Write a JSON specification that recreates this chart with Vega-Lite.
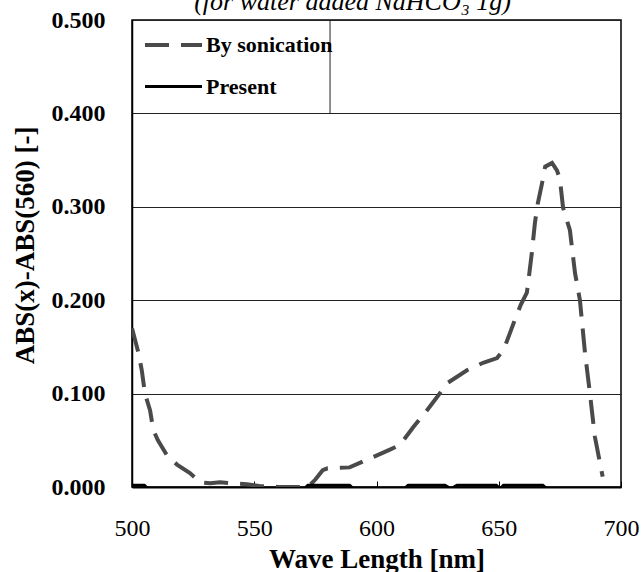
{
  "$schema": "https://vega.github.io/schema/vega-lite/v6.json",
  "width": 489,
  "height": 467,
  "autosize": {"type": "none"},
  "padding": {"left": 132, "top": 20, "right": 20, "bottom": 85},
  "background": "white",
  "title": {
    "text": "(for water added NaHCO₃ 1g)",
    "font": "Liberation Serif",
    "fontSize": 26,
    "fontStyle": "italic",
    "fontWeight": "normal",
    "color": "#000000",
    "anchor": "middle",
    "frame": "group",
    "baseline": "alphabetic",
    "offset": -28,
    "dx": -24
  },
  "config": {
    "view": {"stroke": "#000000", "strokeWidth": 1.5},
    "axis": {"domainColor": "#000000", "tickColor": "#000000", "labelColor": "#000000", "titleColor": "#000000"}
  },
  "layer": [
    {
      "data": {"values": [
        {"wl": 500, "abs": 0.170, "series": "By sonication"},
        {"wl": 502.5, "abs": 0.145, "series": "By sonication"},
        {"wl": 504, "abs": 0.125, "series": "By sonication"},
        {"wl": 505.3, "abs": 0.100, "series": "By sonication"},
        {"wl": 507.4, "abs": 0.082, "series": "By sonication"},
        {"wl": 508.7, "abs": 0.061, "series": "By sonication"},
        {"wl": 510.6, "abs": 0.050, "series": "By sonication"},
        {"wl": 514.3, "abs": 0.034, "series": "By sonication"},
        {"wl": 518.4, "abs": 0.024, "series": "By sonication"},
        {"wl": 523.7, "abs": 0.015, "series": "By sonication"},
        {"wl": 527.8, "abs": 0.005, "series": "By sonication"},
        {"wl": 532, "abs": 0.004, "series": "By sonication"},
        {"wl": 536, "abs": 0.005, "series": "By sonication"},
        {"wl": 541, "abs": 0.004, "series": "By sonication"},
        {"wl": 547, "abs": 0.003, "series": "By sonication"},
        {"wl": 552, "abs": 0.001, "series": "By sonication"},
        {"wl": 560, "abs": 0.000, "series": "By sonication"},
        {"wl": 572, "abs": 0.000, "series": "By sonication"},
        {"wl": 575, "abs": 0.008, "series": "By sonication"},
        {"wl": 578, "abs": 0.018, "series": "By sonication"},
        {"wl": 580, "abs": 0.020, "series": "By sonication"},
        {"wl": 589, "abs": 0.021, "series": "By sonication"},
        {"wl": 596, "abs": 0.029, "series": "By sonication"},
        {"wl": 605.5, "abs": 0.040, "series": "By sonication"},
        {"wl": 609.6, "abs": 0.045, "series": "By sonication"},
        {"wl": 615, "abs": 0.064, "series": "By sonication"},
        {"wl": 620.6, "abs": 0.082, "series": "By sonication"},
        {"wl": 624.7, "abs": 0.096, "series": "By sonication"},
        {"wl": 628.8, "abs": 0.111, "series": "By sonication"},
        {"wl": 637, "abs": 0.125, "series": "By sonication"},
        {"wl": 643.6, "abs": 0.133, "series": "By sonication"},
        {"wl": 649.3, "abs": 0.138, "series": "By sonication"},
        {"wl": 652, "abs": 0.147, "series": "By sonication"},
        {"wl": 654.6, "abs": 0.165, "series": "By sonication"},
        {"wl": 656.6, "abs": 0.179, "series": "By sonication"},
        {"wl": 659, "abs": 0.195, "series": "By sonication"},
        {"wl": 661.5, "abs": 0.208, "series": "By sonication"},
        {"wl": 662, "abs": 0.218, "series": "By sonication"},
        {"wl": 663.5, "abs": 0.250, "series": "By sonication"},
        {"wl": 664.8, "abs": 0.283, "series": "By sonication"},
        {"wl": 666, "abs": 0.304, "series": "By sonication"},
        {"wl": 667.7, "abs": 0.325, "series": "By sonication"},
        {"wl": 669, "abs": 0.343, "series": "By sonication"},
        {"wl": 671.8, "abs": 0.347, "series": "By sonication"},
        {"wl": 673.8, "abs": 0.339, "series": "By sonication"},
        {"wl": 675, "abs": 0.330, "series": "By sonication"},
        {"wl": 676.3, "abs": 0.299, "series": "By sonication"},
        {"wl": 679.1, "abs": 0.275, "series": "By sonication"},
        {"wl": 681.2, "abs": 0.229, "series": "By sonication"},
        {"wl": 683.2, "abs": 0.200, "series": "By sonication"},
        {"wl": 685.3, "abs": 0.143, "series": "By sonication"},
        {"wl": 687.3, "abs": 0.100, "series": "By sonication"},
        {"wl": 689.3, "abs": 0.054, "series": "By sonication"},
        {"wl": 692.5, "abs": 0.011, "series": "By sonication"},
        {"wl": 500, "abs": 0.002, "series": "Present"},
        {"wl": 505, "abs": 0.002, "series": "Present"},
        {"wl": 507, "abs": -0.003, "series": "Present"},
        {"wl": 570, "abs": -0.003, "series": "Present"},
        {"wl": 572, "abs": 0.002, "series": "Present"},
        {"wl": 589, "abs": 0.002, "series": "Present"},
        {"wl": 591, "abs": -0.003, "series": "Present"},
        {"wl": 611, "abs": -0.003, "series": "Present"},
        {"wl": 613, "abs": 0.002, "series": "Present"},
        {"wl": 628, "abs": 0.002, "series": "Present"},
        {"wl": 630.5, "abs": -0.002, "series": "Present"},
        {"wl": 633, "abs": 0.002, "series": "Present"},
        {"wl": 649, "abs": 0.002, "series": "Present"},
        {"wl": 650.5, "abs": -0.002, "series": "Present"},
        {"wl": 652, "abs": 0.002, "series": "Present"},
        {"wl": 668, "abs": 0.002, "series": "Present"},
        {"wl": 670, "abs": -0.003, "series": "Present"},
        {"wl": 700, "abs": -0.003, "series": "Present"}
      ]},
      "mark": {"type": "line", "clip": true, "strokeCap": "butt"},
      "encoding": {
        "x": {
          "field": "wl", "type": "quantitative",
          "scale": {"domain": [500, 700], "nice": false, "zero": false},
          "axis": {
            "values": [500, 550, 600, 650, 700],
            "format": "d",
            "grid": false,
            "tickSize": -6,
            "tickWidth": 1,
            "domainWidth": 2,
            "labelFont": "Liberation Serif",
            "labelFontSize": 24,
            "labelFontWeight": "normal",
            "labelPadding": 35,
            "labelFlush": false,
            "title": "Wave Length [nm]",
            "titleFont": "Liberation Serif",
            "titleFontSize": 27,
            "titleFontWeight": "bold",
            "titleBaseline": "alphabetic",
            "titleY": 80
          }
        },
        "y": {
          "field": "abs", "type": "quantitative",
          "scale": {"domain": [0, 0.5], "nice": false},
          "axis": {
            "values": [0, 0.1, 0.2, 0.3, 0.4, 0.5],
            "format": ".3f",
            "grid": true,
            "gridColor": "#222222",
            "gridWidth": 1,
            "ticks": false,
            "domainWidth": 1.5,
            "labelFont": "Liberation Serif",
            "labelFontSize": 24,
            "labelFontWeight": "bold",
            "labelPadding": 27,
            "labelFlush": false,
            "title": "ABS(x)-ABS(560) [-]",
            "titleFont": "Liberation Serif",
            "titleFontSize": 27,
            "titleFontWeight": "bold",
            "titleBaseline": "alphabetic",
            "titleAlign": "center",
            "titleX": -99,
            "titleY": 225
          }
        },
        "color": {
          "field": "series", "type": "nominal",
          "scale": {"domain": ["By sonication", "Present"], "range": ["#4a4a4a", "#000000"]},
          "legend": {
            "title": null,
            "orient": "none",
            "legendX": 11,
            "legendY": -5.5,
            "padding": 0,
            "rowPadding": 0,
            "symbolType": "stroke",
            "symbolSize": 3249,
            "labelFont": "Liberation Serif",
            "labelFontSize": 22,
            "labelFontWeight": "bold",
            "labelColor": "#000000",
            "labelOffset": 2,
            "labelLimit": 135
          }
        },
        "strokeDash": {
          "field": "series", "type": "nominal",
          "scale": {"domain": ["By sonication", "Present"], "range": [[24, 12], [1, 0]]}
        },
        "strokeWidth": {
          "field": "series", "type": "nominal",
          "scale": {"domain": ["By sonication", "Present"], "range": [4, 3]}
        }
      }
    },
    {
      "data": {"values": [{"wl": 581, "lo": 0.4, "hi": 0.5}]},
      "mark": {"type": "rule", "color": "#222222", "strokeWidth": 1},
      "encoding": {
        "x": {"field": "wl", "type": "quantitative"},
        "y": {"field": "lo", "type": "quantitative"},
        "y2": {"field": "hi"}
      }
    }
  ]
}
